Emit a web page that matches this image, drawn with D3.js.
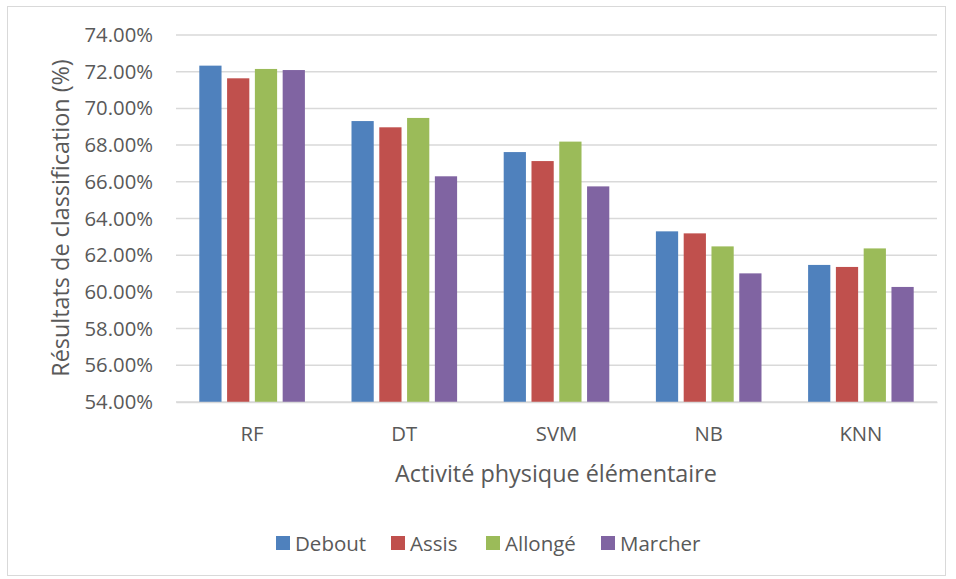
<!DOCTYPE html>
<html><head><meta charset="utf-8">
<script src="https://cdn.jsdelivr.net/npm/d3@7"></script>
<style>body{margin:0;background:#fff}svg{display:block}</style>
</head><body>
<svg id="c" width="956" height="579"></svg>
<script>
const categories = ["RF", "DT", "SVM", "NB", "KNN"];
const seriesNames = ["Debout", "Assis", "Allongé", "Marcher"];
const debout  = [72.33, 69.31, 67.62, 63.30, 61.47];
const assis   = [71.64, 68.97, 67.13, 63.19, 61.36];
const allonge = [72.15, 69.48, 68.19, 62.48, 62.37];
const marcher = [72.09, 66.30, 65.75, 61.01, 60.27];
const yTicks = [54, 56, 58, 60, 62, 64, 66, 68, 70, 72, 74];
const colors = ["#4f81bd", "#c0504d", "#9bbb59", "#8064a2"];
const seriesValues = [debout, assis, allonge, marcher];

(function () {
const svg = d3.select("#c");
const font = "'Open Sans', sans-serif";
const txt = "#595959";
svg.append("rect").attr("x", 7.5).attr("y", 6.5).attr("width", 938).attr("height", 569)
  .attr("fill", "#fff").attr("stroke", "#d9d9d9").attr("stroke-width", 1);

const pLeft = 176, pRight = 937, pTop = 35, pBottom = 402;
const x0 = d3.scaleBand().domain(categories).range([pLeft, pRight]).paddingInner(0).paddingOuter(0);
const y = d3.scaleLinear().domain([54, 74]).range([pBottom, pTop]);
const x1 = d3.scaleBand().domain(seriesNames).range([23.3, x0.bandwidth() - 23.3]).paddingInner(0.2).paddingOuter(0);

// gridlines
svg.append("g").selectAll("line").data(yTicks).join("line")
  .attr("x1", pLeft).attr("x2", pRight)
  .attr("y1", d => y(d)).attr("y2", d => y(d))
  .attr("stroke", "#d9d9d9").attr("stroke-width", 1.5);

// y axis labels
const yAxis = d3.axisLeft(y).tickValues(yTicks).tickSize(0).tickPadding(0)
  .tickFormat(d => d.toFixed(2) + "%");
const gy = svg.append("g").attr("transform", `translate(153,0)`).call(yAxis);
gy.select(".domain").remove();
gy.selectAll("text").attr("font-family", font).attr("font-size", 20.3).attr("fill", txt);

// bars
const groups = svg.append("g").selectAll("g").data(categories).join("g")
  .attr("transform", d => `translate(${x0(d)},0)`);
groups.selectAll("rect").data((c, i) => seriesNames.map((s, j) => ({s, v: seriesValues[j][i], j})))
  .join("rect")
  .attr("x", d => x1(d.s)).attr("width", x1.bandwidth())
  .attr("y", d => y(d.v)).attr("height", d => pBottom - y(d.v))
  .attr("fill", d => colors[d.j]);

// x axis
const xAxis = d3.axisBottom(x0).tickSize(0).tickPadding(0);
const gx = svg.append("g").attr("transform", `translate(0,${pBottom})`).call(xAxis);
gx.select(".domain").attr("stroke", "#d9d9d9").attr("stroke-width", 1.5);
gx.selectAll("text").attr("font-family", font).attr("font-size", 20.3).attr("fill", txt)
  .attr("dy", null).attr("y", 31).attr("dominant-baseline", "central");

// axis titles
svg.append("text").attr("x", 556).attr("y", 473).attr("text-anchor", "middle")
  .attr("dominant-baseline", "central")
  .attr("font-family", font).attr("font-size", 23.4).attr("fill", txt)
  .text("Activité physique élémentaire");
svg.append("text").attr("transform", "translate(60,218) rotate(-90)").attr("text-anchor", "middle")
  .attr("dominant-baseline", "central")
  .attr("font-family", font).attr("font-size", 23.4).attr("fill", txt)
  .text("Résultats de classification (%)");

// legend
const legX = [276, 391, 486, 601];
const leg = svg.append("g").selectAll("g").data(seriesNames).join("g")
  .attr("transform", (d, i) => `translate(${legX[i]},543)`);
leg.append("rect").attr("x", 0).attr("y", -7).attr("width", 14).attr("height", 14)
  .attr("fill", (d, i) => colors[i]);
leg.append("text").attr("x", 19).attr("y", 0).attr("dominant-baseline", "central")
  .attr("font-family", font).attr("font-size", 20.5).attr("fill", txt).text(d => d);
})();
</script>
</body></html>
